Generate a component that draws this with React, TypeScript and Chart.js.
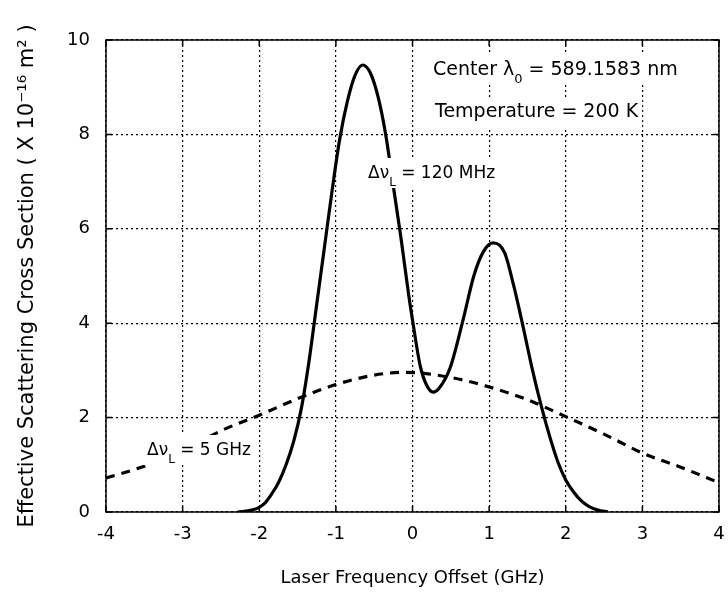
import React, { useEffect, useRef } from "react";
import { Chart, registerables } from "chart.js";

Chart.register(...registerables);

// Laser frequency offset (GHz) and cross-section (x 1e-16 m^2) for the 120 MHz laser linewidth
const narrowX = [-2.28, -2.1, -2.0, -1.92, -1.85, -1.75, -1.65, -1.55, -1.45, -1.35, -1.25, -1.15, -1.05, -0.95, -0.85, -0.75, -0.65, -0.55, -0.45, -0.35, -0.25, -0.15, -0.05, 0.0, 0.1, 0.18, 0.27, 0.36, 0.49, 0.66, 0.8, 0.92, 1.05, 1.2, 1.32, 1.44, 1.56, 1.68, 1.8, 1.9, 2.0, 2.1, 2.2, 2.3, 2.42, 2.55];
const narrowY = [0, 0.04, 0.1, 0.2, 0.35, 0.62, 1.0, 1.5, 2.2, 3.2, 4.4, 5.6, 6.8, 7.9, 8.7, 9.25, 9.47, 9.3, 8.8, 8.0, 6.9, 5.8, 4.6, 4.07, 3.1, 2.7, 2.54, 2.65, 3.05, 4.07, 5.0, 5.5, 5.7, 5.5, 4.8, 3.95, 3.05, 2.25, 1.55, 1.05, 0.68, 0.43, 0.24, 0.12, 0.04, 0];

// 5 GHz laser linewidth
const broadX = [-4, -3.5, -3, -2.5, -2, -1.5, -1, -0.5, -0.1, 0.5, 1, 1.5, 2, 2.5, 3, 3.5, 4];
const broadY = [0.72, 0.97, 1.3, 1.72, 2.05, 2.4, 2.7, 2.9, 2.96, 2.85, 2.65, 2.38, 2.02, 1.65, 1.25, 0.95, 0.62];

const xTicks = [-4, -3, -2, -1, 0, 1, 2, 3, 4];
const yTicks = [0, 2, 4, 6, 8, 10];

const xTitle = "Laser Frequency Offset (GHz)";
const yTitle = "Effective Scattering Cross Section ( X 10\u207B\u00B9\u2076 m\u00B2 )";

const FONT = '"DejaVu Sans", sans-serif';

type Part = { t: string; size: number; dy: number };

const annotations: { x: number; y: number; parts: Part[]; box: boolean }[] = [
  {
    x: 433, y: 75, box: true,
    parts: [
      { t: "Center \u03BB", size: 19, dy: 0 },
      { t: "0", size: 13, dy: 8 },
      { t: " = 589.1583 nm", size: 19, dy: 0 },
    ],
  },
  { x: 435, y: 117, box: true, parts: [{ t: "Temperature = 200 K", size: 19, dy: 0 }] },
  {
    x: 368, y: 178, box: true,
    parts: [
      { t: "\u0394\u03BD", size: 17, dy: 0 },
      { t: "L", size: 12, dy: 8 },
      { t: " = 120 MHz", size: 17, dy: 0 },
    ],
  },
  {
    x: 147, y: 455, box: true,
    parts: [
      { t: "\u0394\u03BD", size: 17, dy: 0 },
      { t: "L", size: 12, dy: 8 },
      { t: " = 5 GHz", size: 17, dy: 0 },
    ],
  },
];

const framePlugin = {
  id: "frameAndNotes",
  afterDatasetsDraw(chart: any) {
    const ctx = chart.ctx as CanvasRenderingContext2D;
    const a = chart.chartArea;
    const xs = chart.scales.x;
    const ys = chart.scales.y;
    ctx.save();
    ctx.strokeStyle = "#000";
    ctx.lineWidth = 1.5;
    ctx.setLineDash([]);
    ctx.strokeRect(a.left, a.top, a.right - a.left, a.bottom - a.top);
    ctx.beginPath();
    for (const v of xTicks) {
      const px = xs.getPixelForValue(v);
      ctx.moveTo(px, a.top);
      ctx.lineTo(px, a.top + 6);
      ctx.moveTo(px, a.bottom);
      ctx.lineTo(px, a.bottom - 6);
    }
    for (const v of yTicks) {
      const py = ys.getPixelForValue(v);
      ctx.moveTo(a.left, py);
      ctx.lineTo(a.left + 6, py);
      ctx.moveTo(a.right, py);
      ctx.lineTo(a.right - 6, py);
    }
    ctx.stroke();
    ctx.textBaseline = "alphabetic";
    ctx.textAlign = "left";
    for (const n of annotations) {
      let w = 0;
      for (const p of n.parts) {
        ctx.font = `${p.size}px ${FONT}`;
        w += ctx.measureText(p.t).width;
      }
      if (n.box) {
        ctx.fillStyle = "#fff";
        ctx.fillRect(n.x - 4, n.y - 20, w + 8, 30);
      }
      ctx.fillStyle = "#000";
      let x = n.x;
      for (const p of n.parts) {
        ctx.font = `${p.size}px ${FONT}`;
        ctx.fillText(p.t, x, n.y + p.dy);
        x += ctx.measureText(p.t).width;
      }
    }
    ctx.restore();
  },
};

export default function App() {
  const ref = useRef<HTMLCanvasElement | null>(null);
  useEffect(() => {
    if (!ref.current) return;
    const chart = new Chart(ref.current, {
      type: "line",
      data: {
        datasets: [
          {
            label: "\u0394\u03BDL = 120 MHz",
            data: narrowX.map((x, i) => ({ x, y: narrowY[i] })),
            borderColor: "#000",
            borderWidth: 3.2,
            pointRadius: 0,
            cubicInterpolationMode: "monotone",
            fill: false,
          },
          {
            label: "\u0394\u03BDL = 5 GHz",
            data: broadX.map((x, i) => ({ x, y: broadY[i] })),
            borderColor: "#000",
            borderWidth: 3.2,
            borderDash: [9, 7],
            pointRadius: 0,
            cubicInterpolationMode: "monotone",
            fill: false,
          },
        ],
      },
      options: {
        animation: false,
        responsive: false,
        layout: { padding: { left: 0, top: 40, right: 9, bottom: 0 } },
        plugins: { legend: { display: false }, tooltip: { enabled: false } },
        scales: {
          x: {
            type: "linear",
            min: -4,
            max: 4,
            afterFit: (s: any) => { s.height = 81; s.paddingLeft = 0; s.paddingRight = 0; },
            afterBuildTicks: (s: any) => { s.ticks = xTicks.map((v) => ({ value: v })); },
            ticks: { color: "#000", font: { family: FONT, size: 18 }, padding: 12 },
            grid: { color: "#000", lineWidth: 1.2, drawTicks: false },
            border: { display: false, dash: [2, 3] },
            title: {
              display: true,
              text: xTitle,
              color: "#000",
              font: { family: FONT, size: 18 },
              padding: { top: 0, bottom: 4 },
            },
          },
          y: {
            type: "linear",
            min: 0,
            max: 10,
            afterFit: (s: any) => { s.width = 106; s.paddingTop = 0; s.paddingBottom = 0; },
            afterBuildTicks: (s: any) => { s.ticks = yTicks.map((v) => ({ value: v })); },
            ticks: { color: "#000", font: { family: FONT, size: 18 }, padding: 16 },
            grid: { color: "#000", lineWidth: 1.2, drawTicks: false },
            border: { display: false, dash: [2, 3] },
            title: {
              display: true,
              text: yTitle,
              color: "#000",
              font: { family: FONT, size: 21 },
              padding: { top: 15, bottom: 0 },
            },
          },
        },
      },
      plugins: [framePlugin],
    } as any);
    return () => chart.destroy();
  }, []);
  return (
    <div style={{ position: "fixed", left: 0, top: 0, width: 728, height: 593, background: "#fff" }}>
      <canvas ref={ref} width={728} height={593} style={{ display: "block" }} />
    </div>
  );
}
